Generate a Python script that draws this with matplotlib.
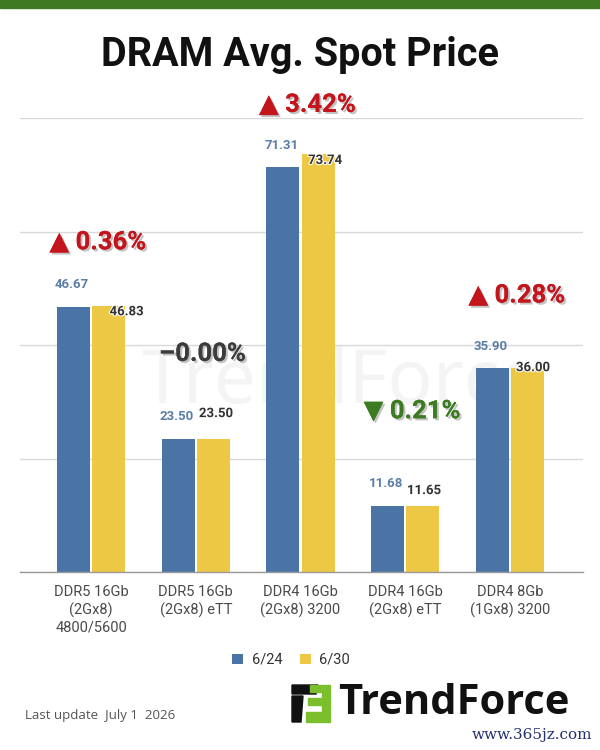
import matplotlib
matplotlib.use("Agg")
import matplotlib.pyplot as plt
import matplotlib.patheffects as pe
from matplotlib.patches import Rectangle, Polygon
import numpy as np

# ---- data ----
categories = ["DDR5 16Gb\n(2Gx8)\n4800/5600", "DDR5 16Gb\n(2Gx8) eTT",
              "DDR4 16Gb\n(2Gx8) 3200", "DDR4 16Gb\n(2Gx8) eTT",
              "DDR4 8Gb\n(1Gx8) 3200"]
price_0624 = [46.67, 23.50, 71.31, 11.68, 35.90]
price_0630 = [46.83, 23.50, 73.74, 11.65, 36.00]
change_text = ["▲ 0.36%", "–0.00%", "▲ 3.42%", "▼ 0.21%", "▲ 0.28%"]
change_dir = ["up", "flat", "up", "down", "up"]
series_names = ["6/24", "6/30"]
yticks = [0, 20, 40, 60, 80]

# ---- styles ----
BLUE = "#4b74a6"
YELLOW = "#edc844"
dir_color = {"up": "#c3151c", "flat": "#3c3c3c", "down": "#3d7b22"}
change_offsets_pt = [46, 61, 35, 68, 52]
yellow_lbl_off = [(13, -4), (2, 18), (5, -5), (1, 11), (4, 0)]
PCT_FONT = ["Roboto", "DejaVu Sans"]

fig = plt.figure(figsize=(6, 7.5), dpi=100)
fig.patch.set_facecolor("white")

# top green band
fig.add_artist(Rectangle((0, 1 - 8 / 750), 1, 8 / 750, transform=fig.transFigure,
                         color="#3e7a21", zorder=0))

fig.text(0.5, 1 - 55 / 750, "DRAM Avg. Spot Price", ha="center", va="center",
         fontsize=28.5, fontweight="bold", family="Roboto", color="#111111")

ax = fig.add_axes([20 / 600, 1 - 572 / 750, 563 / 600, 454 / 750])
ax.set_xlim(-0.678, 4.697)
ax.set_ylim(0, 80)

# faint watermark
ax.text(0.215, 0.415, "TrendForce", transform=ax.transAxes, fontsize=54,
        fontweight="bold", family="Noto Sans", color="#f4f4f4", ha="left",
        va="center", zorder=0)

x = np.arange(len(categories))
w = 0.315
gap = 0.01
b1 = ax.bar(x - w / 2 - gap, price_0624, w, color=BLUE, zorder=2, label=series_names[0])
b2 = ax.bar(x + w / 2 + gap, price_0630, w, color=YELLOW, zorder=2, label=series_names[1])

for i in range(len(x)):
    ax.annotate(f"{price_0624[i]:.2f}", (x[i] - w / 2 - gap, price_0624[i]),
                xytext=(-1, 16), textcoords="offset points", ha="center", va="center",
                fontsize=9.5, fontweight="bold", family="Roboto", color="#5a7ea8", zorder=4)
    dx, dy = yellow_lbl_off[i]
    ax.annotate(f"{price_0630[i]:.2f}", (x[i] + w / 2 + gap, price_0630[i]),
                xytext=(dx, dy), textcoords="offset points", ha="center", va="center",
                fontsize=9.5, fontweight="bold", family="Roboto", color="#333333", zorder=4,
                path_effects=[pe.withStroke(linewidth=1.5, foreground="white")])
    top = max(price_0624[i], price_0630[i])
    ax.annotate(change_text[i], (x[i], top), xytext=(5, change_offsets_pt[i]),
                textcoords="offset points", ha="center", va="center",
                fontsize=18.5, fontweight="bold", family=PCT_FONT,
                color=dir_color[change_dir[i]], zorder=5,
                path_effects=[pe.withSimplePatchShadow(offset=(1.5, -1.5), shadow_rgbFace="#888888", alpha=0.5),
                              pe.Normal()])

ax.set_yticks(yticks)
ax.yaxis.grid(True, color="#d9d9d9", linewidth=1.0, zorder=0)
ax.set_axisbelow(True)
ax.tick_params(axis="y", left=False, labelleft=False)
ax.tick_params(axis="x", bottom=False, pad=6)
ax.set_xticks(x)
ax.set_xticklabels(categories, fontsize=10.5, family="Roboto", color="#4a4a4a",
                   linespacing=1.25)
for s in ["top", "right", "left"]:
    ax.spines[s].set_visible(False)
ax.spines["bottom"].set_color("#9a9a9a")
ax.spines["bottom"].set_linewidth(1.0)
ax.set_facecolor("none")

leg = fig.legend(handles=[b1, b2], labels=series_names, loc="center",
                 bbox_to_anchor=(0.485, 1 - 660 / 750), ncol=2, frameon=False,
                 prop={"family": "Roboto", "size": 10.5}, handlelength=0.75,
                 handleheight=0.75, columnspacing=1.2, handletextpad=0.6)
for t in leg.get_texts():
    t.set_color("#333333")

fig.text(25 / 600, 1 - 715 / 750, "Last update  July 1  2026", ha="left", va="center",
         fontsize=9.5, family="Open Sans", color="#555555")

# TrendForce logo
def fx(px):
    return px / 600
def fy(py):
    return 1 - py / 750
fig.add_artist(Polygon([(fx(292), fy(685)), (fx(318), fy(685)), (fx(316), fy(694)),
                        (fx(292), fy(694))], closed=True, transform=fig.transFigure,
                       color="#111111"))
fig.add_artist(Polygon([(fx(292), fy(696)), (fx(303), fy(696)), (fx(301), fy(722)),
                        (fx(292), fy(722))], closed=True, transform=fig.transFigure,
                       color="#111111"))
fig.add_artist(Polygon([(fx(310), fy(685)), (fx(330), fy(685)), (fx(330), fy(722)),
                        (fx(306), fy(722)), (fx(306), fy(712)), (fx(322), fy(712)),
                        (fx(322), fy(705)), (fx(308), fy(705)), (fx(308), fy(698)),
                        (fx(322), fy(698)), (fx(322), fy(692)), (fx(310), fy(692))],
                       closed=True, transform=fig.transFigure, color="#7cbf2c"))
fig.text(fx(338), fy(704), "TrendForce", ha="left", va="center", fontsize=30,
         fontweight="bold", family="Open Sans", color="#111111")
fig.text(fx(592), fy(735), "www.365jz.com", ha="right", va="center", fontsize=11,
         family="DejaVu Serif", color="#22306e")

fig.savefig("out.png", dpi=100, facecolor="white")
